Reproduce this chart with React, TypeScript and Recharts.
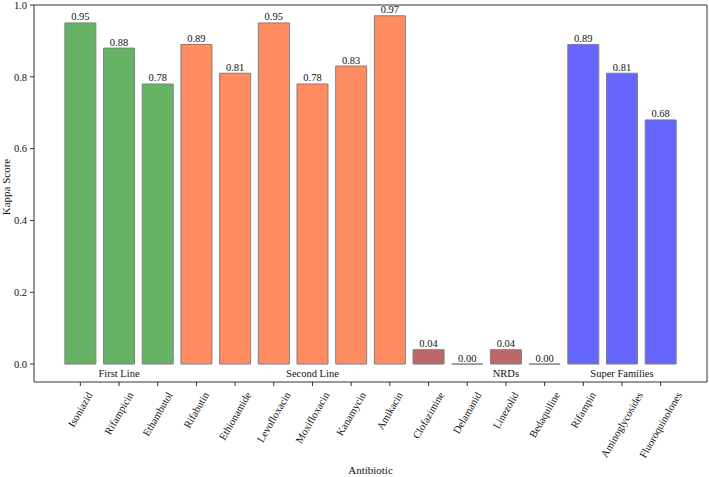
import React from 'react';
import { BarChart, Bar, XAxis, YAxis, Cell, LabelList, ReferenceDot, Label } from 'recharts';

const antibiotics = [
  'Isoniazid', 'Rifampicin', 'Ethambutol',
  'Rifabutin', 'Ethionamide', 'Levofloxacin', 'Moxifloxacin', 'Kanamycin', 'Amikacin',
  'Clofazimine', 'Delamanid', 'Linezolid', 'Bedaquiline',
  'Rifampin', 'Aminoglycosides', 'Fluoroquinolones'
];
const kappaScores = [0.95, 0.88, 0.78, 0.89, 0.81, 0.95, 0.78, 0.83, 0.97, 0.04, 0.0, 0.04, 0.0, 0.89, 0.81, 0.68];
const groupNames = ['First Line', 'Second Line', 'NRDs', 'Super Families'];
const groupSizes = [3, 6, 4, 3];
const groupColors = ['#66b366', '#ff8c61', '#bc6868', '#6666ff'];
const yTicks = [0, 0.2, 0.4, 0.6, 0.8, 1.0];

const FONT = "'Liberation Serif', 'DejaVu Serif', serif";
const FONT_SIZE = 10.5;
const AXIS = '#333333';

// group index for every bar
const groupOf: number[] = [];
groupSizes.forEach((n, g) => { for (let i = 0; i < n; i++) groupOf.push(g); });

const rows = antibiotics.map((name, i) => ({ name, kappa: kappaScores[i], group: groupOf[i] }));

// group label sits under the middle bar (start + size // 2)
const groupLabels = groupNames.map((label, g) => {
  const start = groupSizes.slice(0, g).reduce((a, b) => a + b, 0);
  return { label, at: antibiotics[start + Math.floor(groupSizes[g] / 2)] };
});

let ctx: CanvasRenderingContext2D | null = null;
const textWidth = (s: string) => {
  if (!ctx && typeof document !== 'undefined') ctx = document.createElement('canvas').getContext('2d');
  if (!ctx) return s.length * 5;
  ctx.font = `${FONT_SIZE}px "Liberation Serif"`;
  return ctx.measureText(s).width;
};

const BarShape = (props: any) => {
  const { x, y, width, height, fill } = props;
  return (
    <path
      d={`M${x},${y}h${width}v${height}h${-width}Z`}
      fill={fill}
      stroke="#808080"
      strokeWidth={1}
    />
  );
};

const ValueLabel = (props: any) => {
  const { x, y, width, value } = props;
  return (
    <text x={x + width / 2} y={y - 2.5} textAnchor="middle" fill="#111" fontSize={FONT_SIZE} fontFamily={FONT}>
      {Number(value).toFixed(2)}
    </text>
  );
};

// rotated 60 degrees, bounding box centred under the tick
const XTick = (props: any) => {
  const { x, y, payload } = props;
  const w = textWidth(payload.value);
  const h = 11.6;
  const bh = w * Math.sin(Math.PI / 3) + h * 0.5;
  const cy = y + 2 + bh / 2;
  return (
    <text
      x={x}
      y={cy}
      textAnchor="middle"
      dominantBaseline="central"
      transform={`rotate(-60, ${x}, ${cy})`}
      fill="#111"
      fontSize={FONT_SIZE}
      fontFamily={FONT}
    >
      {payload.value}
    </text>
  );
};

export default function App() {
  return (
    <div style={{ position: 'absolute', left: 0, top: 0, background: '#fff' }}>
      <BarChart
        width={709}
        height={477}
        data={rows}
        margin={{ top: 4, right: 1, bottom: 0, left: 0 }}
        barCategoryGap="10%"
      >
        <XAxis
          dataKey="name"
          height={95}
          padding={{ left: 27, right: 27 }}
          stroke={AXIS}
          tickSize={4}
          interval={0}
          tick={<XTick />}
        >
          <Label
            content={() => (
              <text x={370.5} y={474} textAnchor="middle" fill="#111" fontSize={11} fontFamily={FONT}>
                Antibiotic
              </text>
            )}
          />
        </XAxis>
        <XAxis xAxisId="top" dataKey="name" orientation="top" height={1} tick={false} tickLine={false} stroke={AXIS} />
        <YAxis
          width={34}
          domain={[-0.05, 1.0]}
          ticks={yTicks}
          tickFormatter={(v: number) => v.toFixed(1)}
          tickSize={4}
          tickMargin={3}
          stroke={AXIS}
          tick={{ fill: '#111', fontSize: FONT_SIZE, fontFamily: FONT }}
        >
          <Label
            content={() => (
              <text x={6} y={187} textAnchor="middle" dominantBaseline="central" transform="rotate(-90, 6, 187)" fill="#111" fontSize={11} fontFamily={FONT}>
                Kappa Score
              </text>
            )}
          />
        </YAxis>
        <YAxis yAxisId="right" orientation="right" width={1} domain={[-0.05, 1.0]} tick={false} tickLine={false} stroke={AXIS} />
        <Bar dataKey="kappa" shape={<BarShape />} isAnimationActive={false}>
          {rows.map((r, i) => (
            <Cell key={i} fill={groupColors[r.group]} />
          ))}
          <LabelList dataKey="kappa" content={<ValueLabel />} />
        </Bar>
        {groupLabels.map((g) => (
          <ReferenceDot
            key={g.label}
            x={g.at}
            y={-0.025}
            r={0}
            fill="none"
            stroke="none"
            label={{ value: g.label, position: 'center', fill: '#111', fontSize: FONT_SIZE, fontFamily: FONT }}
          />
        ))}
      </BarChart>
    </div>
  );
}
